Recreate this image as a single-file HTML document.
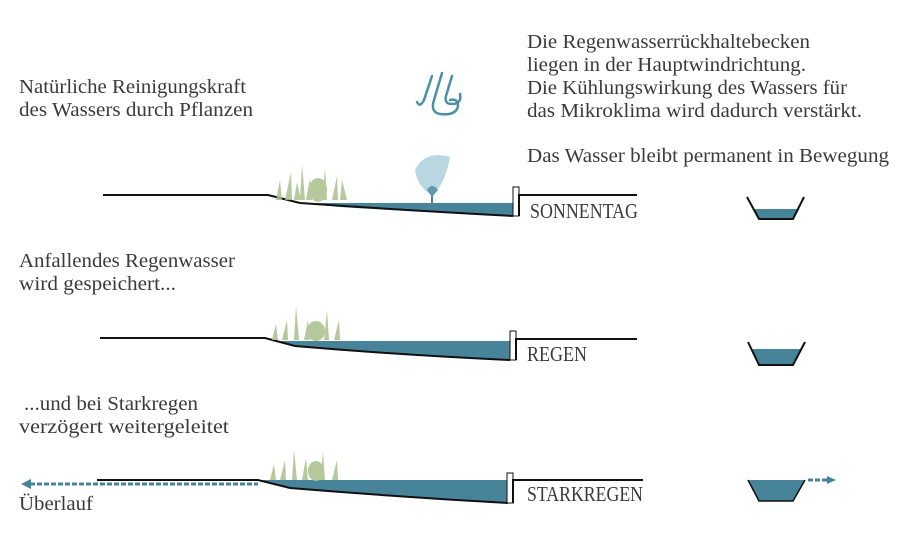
<!DOCTYPE html>
<html><head><meta charset="utf-8"><style>
html,body{margin:0;padding:0;background:#fff;}
svg{display:block}
text{font-family:"Liberation Serif",serif;fill:#3a3a3a;}
</style></head><body>
<svg width="900" height="546" viewBox="0 0 900 546">
<g font-size="19.5">
<text x="19" y="93" textLength="227" lengthAdjust="spacingAndGlyphs">Natürliche Reinigungskraft</text>
<text x="19" y="116" textLength="234" lengthAdjust="spacingAndGlyphs">des Wassers durch Pflanzen</text>
<text x="527" y="48" textLength="283" lengthAdjust="spacingAndGlyphs">Die Regenwasserrückhaltebecken</text>
<text x="527" y="71" textLength="279" lengthAdjust="spacingAndGlyphs">liegen in der Hauptwindrichtung.</text>
<text x="527" y="94" textLength="320" lengthAdjust="spacingAndGlyphs">Die Kühlungswirkung des Wassers für</text>
<text x="527" y="117" textLength="335" lengthAdjust="spacingAndGlyphs">das Mikroklima wird dadurch verstärkt.</text>
<text x="527" y="162" textLength="362" lengthAdjust="spacingAndGlyphs">Das Wasser bleibt permanent in Bewegung</text>
<text x="19" y="267" textLength="216" lengthAdjust="spacingAndGlyphs">Anfallendes Regenwasser</text>
<text x="19" y="290" textLength="157" lengthAdjust="spacingAndGlyphs">wird gespeichert...</text>
<text x="24" y="410" textLength="174" lengthAdjust="spacingAndGlyphs">...und bei Starkregen</text>
<text x="19" y="433" textLength="210" lengthAdjust="spacingAndGlyphs">verzögert weitergeleitet</text>
<text x="19" y="510" textLength="74" lengthAdjust="spacingAndGlyphs">Überlauf</text>
</g>
<g font-size="21">
<text x="530" y="218" textLength="108" lengthAdjust="spacingAndGlyphs">SONNENTAG</text>
<text x="527" y="361" textLength="60" lengthAdjust="spacingAndGlyphs">REGEN</text>
<text x="527" y="501" textLength="116" lengthAdjust="spacingAndGlyphs">STARKREGEN</text>
</g>
<!-- wind icon -->
<g fill="none" stroke="#4a90a8" stroke-width="2.5" stroke-linecap="round">
<path d="M432 76 L424 100 Q420 108 417 102"/>
<path d="M442 73 L434 100 Q430 112 440 114 Q456 116 458 106 Q458 98 450 100"/>
<path d="M452 76 L446 96 Q444 104 452 104 Q462 104 460 94"/>
</g>
<!-- Row 1 -->
<g>
<path d="M300 203 L513 203 L513 216 Q420 212 340 207 Z" fill="#47849a"/>
<path d="M103 195 L268 195 L300 203 Q400 210 513 216" fill="none" stroke="#111" stroke-width="2"/>
<rect x="513" y="187" width="6" height="29" fill="#fff" stroke="#111" stroke-width="1"/>
<path d="M519 216 v-21 h118" fill="none" stroke="#111" stroke-width="2"/>
<g fill="#a9c08c" opacity="0.85">
<path d="M276 200 l4 -20 l2 20 z M285 200 l6 -28 l1 28z M294 200 l3 -18 l4 18z M300 200 l2 -36 l3 36z M306 200 l4 -22 l2 22z M322 200 l3 -32 l2 32z M332 200 l5 -24 l1 24z M340 200 l2 -20 l5 20z"/>
<ellipse cx="318" cy="190" rx="9" ry="12"/>
</g>
<path d="M415 170 Q425 150 450 157 Q445 185 432 195 Q418 188 415 170Z" fill="#b9d7e0"/>
<path d="M432 195 L432 206" stroke="#47849a" stroke-width="2"/>
<path d="M427 190 Q432 182 438 190 L432 197Z" fill="#5e99ac"/>
</g>
<!-- Row 2 -->
<g>
<path d="M272 341 L510 341 L510 360 Q400 355 295 346 Z" fill="#47849a"/>
<path d="M100 338 L265 338 L295 346 Q400 355 510 360" fill="none" stroke="#111" stroke-width="2"/>
<rect x="510" y="331" width="6" height="29" fill="#fff" stroke="#111" stroke-width="1"/>
<path d="M516 360 v-21 h121" fill="none" stroke="#111" stroke-width="2"/>
<g fill="#a9c08c" opacity="0.85">
<path d="M272 340 l4 -16 l2 16z M282 340 l5 -20 l1 20z M294 340 l2 -34 l3 34z M304 340 l4 -20 l2 20z M324 340 l3 -30 l2 30z M334 340 l5 -20 l1 20z"/>
<ellipse cx="316" cy="331" rx="9" ry="10"/>
</g>
</g>
<!-- Row 3 -->
<g>
<path d="M258 480 L508 480 L508 503 Q400 497 290 488 Z" fill="#47849a"/>
<path d="M97 480 L258 480 L290 488 Q400 497 508 503" fill="none" stroke="#111" stroke-width="2"/>
<rect x="507" y="473" width="6" height="30" fill="#fff" stroke="#111" stroke-width="1"/>
<path d="M513 503 v-23 h130" fill="none" stroke="#111" stroke-width="2"/>
<g fill="#a9c08c" opacity="0.85">
<path d="M270 480 l4 -16 l2 16z M280 480 l5 -20 l1 20z M292 480 l2 -30 l3 30z M302 480 l4 -22 l2 22z M320 480 l3 -28 l2 28z M332 480 l5 -20 l1 20z"/>
<ellipse cx="316" cy="471" rx="8" ry="10"/>
</g>
<line x1="30" y1="484" x2="258" y2="484" stroke="#47849a" stroke-width="3" stroke-dasharray="5,2"/>
<path d="M21 484 l10 -5 v10z" fill="#47849a"/>
</g>
<!-- trapezoids -->
<path d="M753 209 L799 209 L793 219 L759 219Z" fill="#47849a"/>
<path d="M747 197 L759 219 L793 219 L804 197" fill="none" stroke="#111" stroke-width="2"/>
<path d="M752 349 L801 349 L793 365 L759 365Z" fill="#47849a"/>
<path d="M748 342 L759 365 L793 365 L805 342" fill="none" stroke="#111" stroke-width="2"/>
<path d="M748 480 L805 480 L793 501 L759 501Z" fill="#47849a"/>
<path d="M748 480 L759 501 L793 501 L805 480" fill="none" stroke="#111" stroke-width="1.5"/>
<line x1="808" y1="480" x2="828" y2="480" stroke="#47849a" stroke-width="3" stroke-dasharray="5,2"/>
<path d="M836 480 l-9 -4 v8z" fill="#47849a"/>
</svg>
</body></html>
